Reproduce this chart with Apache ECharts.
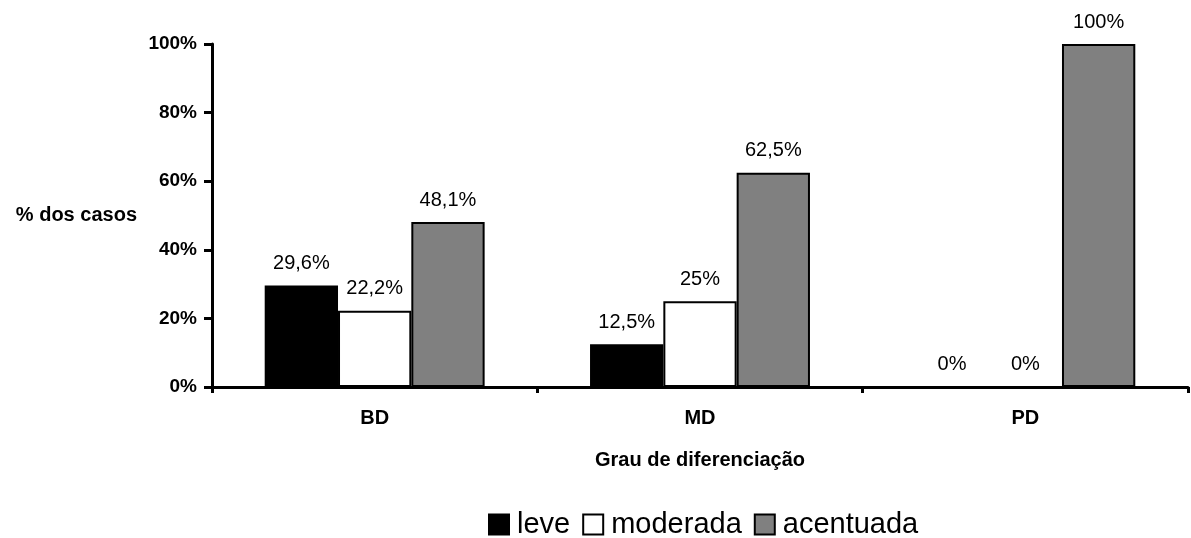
<!DOCTYPE html>
<html>
<head>
<meta charset="utf-8">
<script src="https://cdn.jsdelivr.net/npm/echarts@6/dist/echarts.min.js"></script>
<style>
  html, body { margin: 0; padding: 0; background: #fff; }
  #chart { width: 1191px; height: 538px; }
</style>
</head>
<body>
<div id="chart"></div>
<script>
// Grau de diferenciação x intensidade (% dos casos)
const categories = ['BD', 'MD', 'PD'];
const seriesNames = ['leve', 'moderada', 'acentuada'];
const leve = [29.6, 12.5, 0];
const moderada = [22.2, 25, 0];
const acentuada = [48.1, 62.5, 100];
const yTicks = [0, 20, 40, 60, 80, 100];

const FONT = '"Liberation Sans", Arial, sans-serif';
const fills = ['#000000', '#ffffff', '#808080'];
const values = [leve, moderada, acentuada];

function pct(v) {
  return String(v).replace('.', ',') + '%';
}

const chart = echarts.init(document.getElementById('chart'), null, { renderer: 'canvas' });

chart.setOption({
  animation: false,
  backgroundColor: '#ffffff',
  textStyle: { fontFamily: FONT },
  grid: { left: 212, right: 3, top: 44, bottom: 151, containLabel: false },
  legend: {
    data: seriesNames,
    left: 483,
    top: 505,
    itemWidth: 20,
    itemHeight: 20,
    itemGap: 12,
    icon: 'rect',
    textStyle: { fontFamily: FONT, fontSize: 29, color: '#000', padding: [0, 0, 0, 3] }
  },
  xAxis: {
    type: 'category',
    data: categories,
    name: 'Grau de diferenciação',
    nameLocation: 'middle',
    nameGap: 63,
    nameTextStyle: { fontFamily: FONT, fontSize: 20, fontWeight: 'bold', color: '#000' },
    axisLine: { lineStyle: { color: '#000', width: 3 } },
    axisTick: { show: true, length: 6, lineStyle: { color: '#000', width: 3 }, alignWithLabel: false },
    axisLabel: { fontFamily: FONT, fontSize: 20, fontWeight: 'bold', color: '#000', margin: 21 },
    splitLine: { show: false }
  },
  yAxis: {
    type: 'value',
    min: yTicks[0],
    max: yTicks[yTicks.length - 1],
    interval: yTicks[1] - yTicks[0],
    name: '% dos casos',
    nameLocation: 'middle',
    nameRotate: 0,
    nameGap: 75,
    nameTextStyle: { fontFamily: FONT, fontSize: 20, fontWeight: 'bold', color: '#000', align: 'right', padding: [0, 0, 0, 0] },
    axisLine: { show: true, lineStyle: { color: '#000', width: 3 } },
    axisTick: { show: true, length: 8, lineStyle: { color: '#000', width: 3 } },
    axisLabel: {
      fontFamily: FONT, fontSize: 19, fontWeight: 'bold', color: '#000', margin: 15,
      formatter: v => v + '%'
    },
    splitLine: { show: false }
  },
  series: seriesNames.map((name, i) => ({
    name: name,
    type: 'bar',
    data: values[i],
    barGap: '0%',
    barCategoryGap: '32.4%',
    itemStyle: { color: fills[i], borderColor: '#000', borderWidth: 2 },
    label: {
      show: true,
      position: 'top',
      distance: 12,
      fontFamily: FONT,
      fontSize: 20,
      color: '#000',
      formatter: p => pct(p.value)
    }
  }))
});
</script>
</body>
</html>
